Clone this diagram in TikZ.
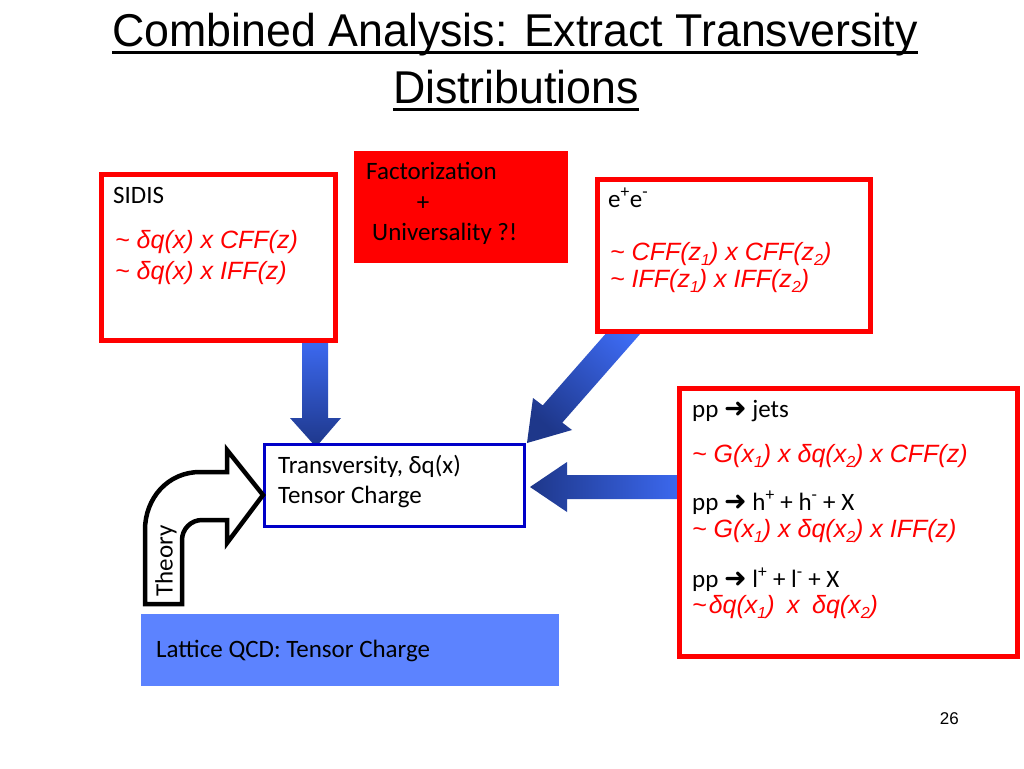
\documentclass[tikz,border=0pt]{standalone}
\usepackage{graphicx}
\usepackage{fontspec}
\setmainfont{Carlito}
\newfontfamily\arialf{Liberation Sans}
\newfontfamily\dejavuf{DejaVu Sans}
\newcommand\mybody{\fontsize{25}{30}\selectfont}
\newcommand\myred{\arialf\itshape\fontsize{25}{30}\selectfont}
\newcommand\myarr{{\dejavuf\fontsize{27}{30}\selectfont ➜}}
\newcommand\mysub[1]{\raisebox{-0.2em}{\fontsize{16}{16}\selectfont #1}}
\definecolor{lightb}{RGB}{62,108,246}
\definecolor{darkb}{RGB}{30,55,138}
\definecolor{transblue}{RGB}{0,0,200}
\definecolor{latblue}{RGB}{92,131,255}
\definecolor{boxred}{RGB}{255,0,0}
\begin{document}
\begin{tikzpicture}[x=1pt,y=-1pt,
  txt/.style={inner sep=0pt, anchor=base west, font=\mybody},
  rtxt/.style={inner sep=0pt, anchor=base west, font=\myred, text=boxred},
  redbox/.style={draw=boxred, line width=5pt, fill=white, inner sep=0pt},
  titletxt/.style={inner sep=0pt, anchor=base, font=\arialf\fontsize{46}{55}\selectfont},
  ulin/.style={line width=3pt}]
\useasboundingbox (0,0) rectangle (1024,768);
\fill[white] (0,0) rectangle (1024,768);

% title
\node[titletxt] (t1) at (515,47) {\scalebox{0.972}[1]{Combined Analysis: Extract Transversity}};
\node[titletxt] (t2) at (516,103) {\scalebox{0.972}[1]{Distributions}};
\draw[ulin] ([yshift=-6pt]t1.base west) -- ([yshift=-6pt]t1.base east);
\draw[ulin] ([yshift=-6pt]t2.base west) -- ([yshift=-6pt]t2.base east);

% block arrows (behind boxes)
\shade[top color=lightb, bottom color=darkb]
  (302,335) -- (328,335) -- (328,418) -- (341,418) -- (316,447) -- (290,418) -- (302,418) -- cycle;
\shade[left color=darkb, right color=lightb]
  (690,475) -- (567,475) -- (567,462) -- (530,487) -- (567,512) -- (567,499) -- (690,499) -- cycle;
\shade[top color=lightb, bottom color=darkb, shading angle=-41]
  (625.2,311.5) -- (644.8,328.7) -- (562.3,422.6) -- (572,430) -- (527,443) -- (533,398) -- (542.7,405.4) -- cycle;

% boxes
\node[redbox, minimum width=234pt, minimum height=166pt] (sidis) at (218.5,257.5) {};
\node[redbox, minimum width=273pt, minimum height=152pt] (ee) at (734,255.5) {};
\node[redbox, minimum width=338pt, minimum height=268pt] (pp) at (848.5,522.5) {};
\node[fill=boxred, inner sep=0pt, minimum width=214pt, minimum height=112pt] (fact) at (461,207) {};
\node[draw=transblue, line width=3pt, fill=white, inner sep=0pt, minimum width=260pt, minimum height=82pt] (trans) at (394.5,485.5) {};
\node[fill=latblue, inner sep=0pt, minimum width=418pt, minimum height=72pt] (lat) at (350,650) {};

% Theory bent arrow
\draw[line width=4.5pt, fill=white, line join=miter]
  (145,604) -- (145,530) .. controls (145,498) and (168,472) .. (200,472)
  -- (227,472) -- (227,450) -- (263,495) -- (227,543) -- (227,520) -- (202,520)
  .. controls (191,520) and (182,529) .. (182,540) -- (182,604) -- cycle;
\node[rotate=90, inner sep=0pt, font=\mybody] (theory) at (166,561) {Theory};

% SIDIS texts
\node[txt] (sidisT) at (113,203) {SIDIS};
\node[rtxt] (sidis1) at (115,248) {\textasciitilde{} δq(x) x CFF(z)};
\node[rtxt] (sidis2) at (115,279) {\textasciitilde{} δq(x) x IFF(z)};

% Factorization
\node[txt] (fact1) at (366,179) {Factorization};
\node[inner sep=0pt, anchor=base, font=\mybody] (fact2) at (423,210) {+};
\node[txt] (fact3) at (372,240) {Universality ?!};

% e+e-
\node[txt] (eeT) at (608,207) {e\textsuperscript{+}e\textsuperscript{-}};
\node[rtxt] (ee1) at (610,260) {\textasciitilde{} CFF(z\mysub{1}) x CFF(z\mysub{2})};
\node[rtxt] (ee2) at (610,287) {\textasciitilde{} IFF(z\mysub{1}) x IFF(z\mysub{2})};

% Transversity
\node[txt] (tr1) at (278,473) {Transversity, δq(x)};
\node[txt] (tr2) at (278,503) {Tensor Charge};

% Lattice
\node[txt] (lat1) at (156,657) {Lattice QCD: Tensor Charge};

% pp box
\node[txt] (pp1) at (692,417) {pp \myarr{} jets};
\node[rtxt] (pp2) at (692,462) {\textasciitilde{} G(x\mysub{1}) x δq(x\mysub{2}) x CFF(z)};
\node[txt] (pp3) at (692,510) {pp \myarr{} h\textsuperscript{+} + h\textsuperscript{-} + X};
\node[rtxt] (pp4) at (692,537) {\textasciitilde{} G(x\mysub{1}) x δq(x\mysub{2}) x IFF(z)};
\node[txt] (pp5) at (692,587) {pp \myarr{} l\textsuperscript{+} + l\textsuperscript{-} + X};
\node[rtxt] (pp6) at (692,613) {\textasciitilde\kern2pt δq(x\mysub{1})\enspace x\enspace δq(x\mysub{2})};

% page number
\node[inner sep=0pt, anchor=base east, font=\arialf\fontsize{17}{20}\selectfont] (pg) at (959,724) {26};
\end{tikzpicture}
\end{document}
